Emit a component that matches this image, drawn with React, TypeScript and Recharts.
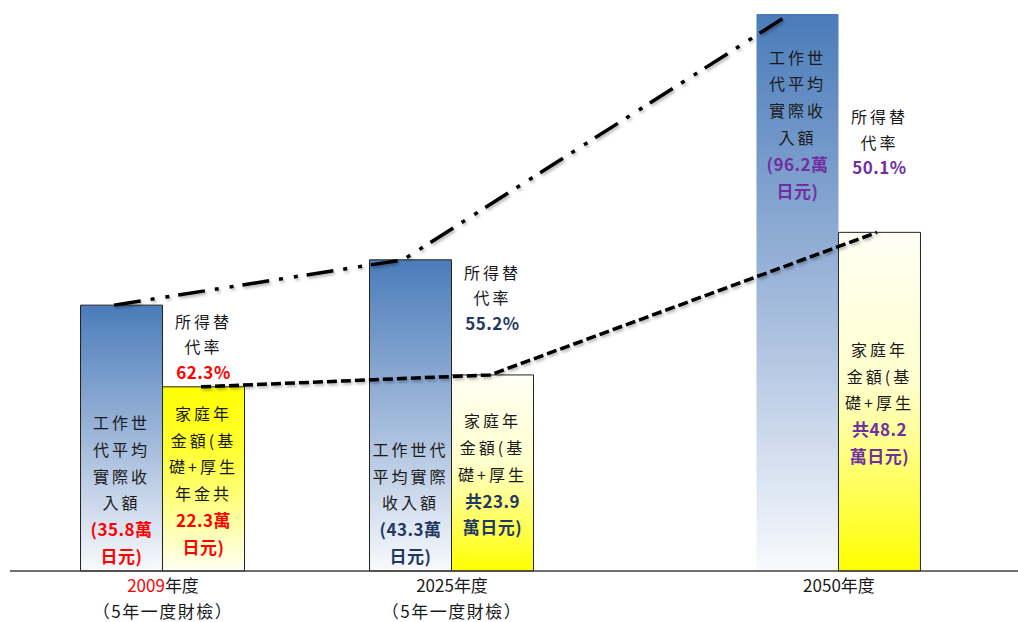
import { ComposedChart, Bar, Line, XAxis, YAxis, Cell, LabelList } from "recharts"

// x categories (fiscal years)
const years = [2009, 2025, 2050]
const yearNotes = ["（5年一度財檢）", "（5年一度財檢）", ""]

// bar heights as drawn in the picture (same unit as 2009 income)
const incomeDrawn = [35.8, 41.9, 75.0]
const pensionDrawn = [24.8, 26.4, 45.6]

// texts inside / above the bars
const incomeCaption = [
    ["工作世", "代平均", "實際收", "入額"],
    ["工作世代", "平均實際", "收入額"],
    ["工作世", "代平均", "實際收", "入額"],
]
const incomeAmount = [
    ["(35.8萬", "日元)"],
    ["(43.3萬", "日元)"],
    ["(96.2萬", "日元)"],
]
const pensionCaption = [
    ["家庭年", "金額(基", "礎+厚生", "年金共"],
    ["家庭年", "金額(基", "礎+厚生"],
    ["家庭年", "金額(基", "礎+厚生"],
]
const pensionAmount = [
    ["22.3萬", "日元)"],
    ["共23.9", "萬日元)"],
    ["共48.2", "萬日元)"],
]
const rateCaption = ["所得替", "代率"]
const rateValues = ["62.3%", "55.2%", "50.1%"]

const rows = years.map((y, i) => ({ year: y, income: incomeDrawn[i], pension: pensionDrawn[i] }))

const FONT = "'Noto Sans CJK TC', 'Noto Sans CJK JP', sans-serif"
const TEXT = "#1a1a1a"
const VALUE_COLORS = ["#ff0000", "#1f3864", "#7030a0"]
const LH = 26.7

// the year axis is not evenly spaced in the original, so a small piecewise scale
const X_STOPS: [number, number][] = [[2000, 0], [2009, 0.1518], [2025, 0.4385], [2050, 0.8224], [2060, 1]]

function pieceFrac(v: number) {
    for (let i = 1; i < X_STOPS.length; i++) {
        const [a, fa] = X_STOPS[i - 1]
        const [b, fb] = X_STOPS[i]
        if (v <= b || i === X_STOPS.length - 1) return fa + ((v - a) / (b - a)) * (fb - fa)
    }
    return 0
}

function makeYearScale(shift: number): any {
    let dom: any[] = [2000, 2060]
    let rng: number[] = [0, 1]
    const s: any = (v: number) => rng[0] + pieceFrac(Number(v)) * (rng[1] - rng[0]) + shift
    s.domain = (d?: any[]) => {
        if (d === undefined) return dom
        dom = [...d]
        return s
    }
    s.range = (r?: number[]) => {
        if (r === undefined) return rng
        rng = [...r]
        return s
    }
    s.copy = () => makeYearScale(shift).domain(dom).range(rng)
    s.ticks = () => years.slice()
    s.tickFormat = () => (v: any) => String(v)
    return s
}

const groupScale = makeYearScale(0)
const incomeLineScale = makeYearScale(-49)
const pensionLineScale = makeYearScale(38)

type Piece = { t: string; c: string; bold?: boolean }

function TextBlock({ cx, firstY, lines, lh }: { cx: number; firstY: number; lines: Piece[]; lh: number }) {
    return (
        <g>
            {lines.map((l, k) => (
                <text
                    key={k}
                    x={cx}
                    y={firstY + k * lh}
                    dy="0.36em"
                    textAnchor="middle"
                    fontFamily={FONT}
                    fontSize={l.bold ? 17 : 16}
                    fontWeight={l.bold ? 700 : 400}
                    letterSpacing={l.bold ? 0.5 : 3}
                    fill={l.c}
                >
                    {l.t}
                </text>
            ))}
        </g>
    )
}

const renderIncomeLabel = (p: any) => {
    const { x, y, width, height, index } = p
    const lines: Piece[] = [
        ...incomeCaption[index].map((t) => ({ t, c: TEXT })),
        ...incomeAmount[index].map((t) => ({ t, c: VALUE_COLORS[index], bold: true })),
    ]
    const cx = x + width / 2
    // the tall 2050 bar carries its text near the top
    const firstY = index === 2 ? y + 44 : y + height - 14 - (lines.length - 1) * LH
    return <TextBlock cx={cx} firstY={firstY} lines={lines} lh={LH} />
}

const RATE_GAP = [14, 51, 64]

const renderPensionLabel = (p: any) => {
    const { x, y, width, height, index } = p
    const lines: Piece[] = [
        ...pensionCaption[index].map((t) => ({ t, c: TEXT })),
        ...pensionAmount[index].map((t) => ({ t, c: VALUE_COLORS[index], bold: true })),
    ]
    const cx = x + width / 2
    const firstY = y + height / 2 + 2 - ((lines.length - 1) * LH) / 2
    const rate: Piece[] = [
        ...rateCaption.map((t) => ({ t, c: TEXT })),
        { t: rateValues[index], c: VALUE_COLORS[index], bold: true },
    ]
    const rateFirst = y - RATE_GAP[index] - (rate.length - 1) * 25.5
    return (
        <g>
            <TextBlock cx={cx} firstY={firstY} lines={lines} lh={LH} />
            <TextBlock cx={cx} firstY={rateFirst} lines={rate} lh={25.5} />
        </g>
    )
}

function YearTick(props: any) {
    const { x, y, payload } = props
    const i = years.indexOf(payload.value)
    return (
        <g>
            <text x={x} y={y + 21} textAnchor="middle" fontFamily={FONT} fontSize={17} fill={TEXT}>
                <tspan fill={i === 0 ? "#ff0000" : TEXT}>{payload.value}</tspan>
                <tspan>年度</tspan>
            </text>
            {yearNotes[i] ? (
                <text x={x} y={y + 47} textAnchor="middle" fontFamily={FONT} fontSize={17} letterSpacing={1.5} fill={TEXT}>
                    {yearNotes[i]}
                </text>
            ) : null}
        </g>
    )
}

export default function App() {
    return (
        <div style={{ position: "absolute", left: 0, top: 0, background: "#fff" }}>
            <ComposedChart
                width={1018}
                height={622}
                data={rows}
                margin={{ top: 14, right: 0, bottom: 0, left: 10 }}
                barGap={0}
            >
                <defs>
                    <linearGradient id="incomeGrad" x1="0" y1="0" x2="0" y2="1">
                        <stop offset="0" stopColor="#4a7cba" />
                        <stop offset="0.5" stopColor="#9fb7da" />
                        <stop offset="1" stopColor="#f8fafd" />
                    </linearGradient>
                    <linearGradient id="penDown" x1="0" y1="0" x2="0" y2="1">
                        <stop offset="0" stopColor="#ffff00" />
                        <stop offset="0.35" stopColor="#ffff33" />
                        <stop offset="1" stopColor="#fffff2" />
                    </linearGradient>
                    <linearGradient id="penUp" x1="0" y1="0" x2="0" y2="1">
                        <stop offset="0" stopColor="#fffff4" />
                        <stop offset="0.45" stopColor="#ffffcc" />
                        <stop offset="1" stopColor="#ffff00" />
                    </linearGradient>
                    <filter id="lineShadow" x="-5%" y="-20%" width="110%" height="140%">
                        <feDropShadow dx="1.5" dy="2" stdDeviation="1.5" floodColor="#000" floodOpacity="0.3" />
                    </filter>
                </defs>
                <XAxis
                    xAxisId="g"
                    dataKey="year"
                    type="number"
                    scale={groupScale}
                    domain={[2000, 2060]}
                    ticks={years}
                    interval={0}
                    height={51}
                    tickSize={0}
                    tickMargin={0}
                    tickLine={false}
                    axisLine={{ stroke: "#404040", strokeWidth: 1.5 }}
                    tick={<YearTick />}
                />
                <XAxis xAxisId="inc" dataKey="year" type="number" scale={incomeLineScale} domain={[2000, 2060]} ticks={years} hide />
                <XAxis xAxisId="pen" dataKey="year" type="number" scale={pensionLineScale} domain={[2000, 2060]} ticks={years} hide />
                <YAxis hide domain={[0, 75]} />
                <Bar xAxisId="g" dataKey="income" barSize={82} isAnimationActive={false}>
                    {rows.map((_, i) => (
                        <Cell key={i} fill="url(#incomeGrad)" stroke={i === 2 ? "none" : "#222"} strokeWidth={1} />
                    ))}
                    <LabelList dataKey="income" content={renderIncomeLabel} />
                </Bar>
                <Bar xAxisId="g" dataKey="pension" barSize={82} isAnimationActive={false}>
                    {rows.map((_, i) => (
                        <Cell key={i} fill={i === 0 ? "url(#penDown)" : "url(#penUp)"} stroke="#222" strokeWidth={1} />
                    ))}
                    <LabelList dataKey="pension" content={renderPensionLabel} />
                </Bar>
                <Line
                    xAxisId="inc"
                    dataKey="income"
                    type="linear"
                    stroke="#000"
                    strokeWidth={3.5}
                    strokeDasharray="27 10 4 11 4 9"
                    dot={false}
                    activeDot={false}
                    filter="url(#lineShadow)"
                    isAnimationActive={false}
                />
                <Line
                    xAxisId="pen"
                    dataKey="pension"
                    type="linear"
                    stroke="#000"
                    strokeWidth={3.5}
                    strokeDasharray="10 4"
                    dot={false}
                    activeDot={false}
                    filter="url(#lineShadow)"
                    isAnimationActive={false}
                />
            </ComposedChart>
        </div>
    )
}
